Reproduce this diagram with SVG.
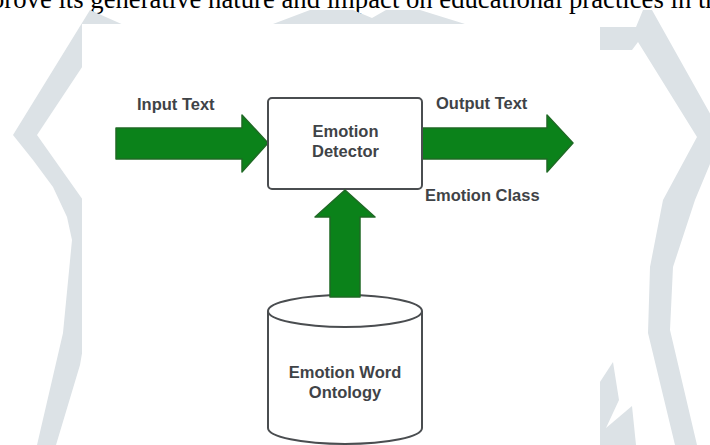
<svg xmlns="http://www.w3.org/2000/svg" width="710" height="445" viewBox="0 0 710 445">
  <defs>
    <style>
      .wm { fill: #dce2e6; }
      .page { font-family: "Liberation Serif", "Times New Roman", serif; font-size: 26.7px; fill: #000; }
      .lbl { font-family: "Liberation Sans", Arial, Helvetica, sans-serif; font-size: 16.5px; font-weight: bold; fill: #3f4347; }
      .arrow { fill: #0b821a; stroke: #1f6a25; stroke-width: 1.5; stroke-linejoin: round; }
      .shape { fill: #ffffff; stroke: #4a4d50; stroke-width: 2; }
    </style>
  </defs>

  <!-- page background -->
  <rect x="0" y="0" width="710" height="445" fill="#ffffff"/>

  <!-- running text line at the top of the page -->
  <text class="page" x="-9" y="8">prove its generative nature and impact on educational practices in th</text>

  <!-- faint watermark behind the figure -->
  <g id="watermark">
    <polygon class="wm" points="90,10 135,30 100,40 37,135 90,210 86,330 80,365 56,445 37,445 63,333 72,240 67,217 53,187 33,160 13,135"/>
    <polygon class="wm" points="273,24 310,10 353,10 372,18 386,10 420,10 465,24"/>
    <polygon class="wm" points="598,27 636,27 643,10 652,10 722,135 695,200 673,267 670,330 697,445 675,445 648,333 650,267 663,200 697,137 638,42 632,50 598,50"/>
    <polygon class="wm" points="598,385 613,362 619,400 606,428 632,406 636,445 598,445"/>
  </g>

  <!-- figure area -->
  <rect x="82" y="24" width="518" height="421" fill="#ffffff"/>

  <!-- connectors -->
  <g id="connectors">
    <path class="arrow" d="M116,128 L242,128 L242,115 L268,143 L242,172 L242,159 L116,159 Z"/>
    <path class="arrow" d="M422,128 L547,128 L547,115 L573,143 L547,172 L547,159 L422,159 Z"/>
  </g>

  <g id="emotion-detector">
    <rect class="shape" x="268" y="98" width="154" height="91" rx="4"/>
    <text class="lbl" x="345.5" y="137" text-anchor="middle">Emotion</text>
    <text class="lbl" x="345.5" y="157" text-anchor="middle">Detector</text>
  </g>

  <g id="ontology">
    <path class="shape" d="M268,311 L268,428 A77,16 0 0 0 422,428 L422,311"/>
    <ellipse class="shape" cx="345" cy="311" rx="77" ry="16"/>
    <text class="lbl" x="345" y="378" text-anchor="middle">Emotion Word</text>
    <text class="lbl" x="345" y="398" text-anchor="middle">Ontology</text>
  </g>

  <g id="connector-labels">
    <path class="arrow" d="M330,297 L330,217 L315,217 L345,190 L375,217 L360,217 L360,297 Z"/>
    <text class="lbl" x="137" y="110">Input Text</text>
    <text class="lbl" x="436" y="109">Output Text</text>
    <text class="lbl" x="425" y="201">Emotion Class</text>
  </g>
</svg>
